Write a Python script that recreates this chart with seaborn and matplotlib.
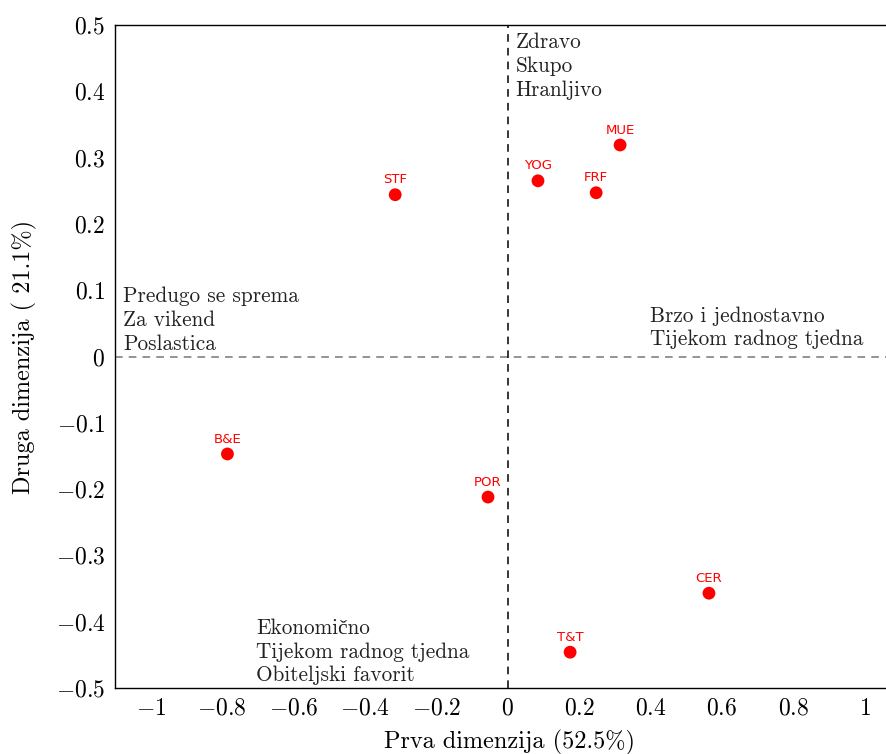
import numpy as np
import pandas as pd
import matplotlib.pyplot as plt
import seaborn as sns

# --- data ---
labels = ["MUE", "YOG", "FRF", "STF", "B&E", "POR", "CER", "T&T"]
dim1 = [0.315, 0.085, 0.248, -0.315, -0.785, -0.055, 0.564, 0.175]
dim2 = [0.319, 0.265, 0.247, 0.244, -0.147, -0.212, -0.357, -0.446]

quadrant_text = {
    "top": ["Zdravo", "Skupo", "Hranljivo"],
    "left": ["Predugo se sprema", "Za vikend", "Poslastica"],
    "right": ["Brzo i jednostavno", "Tijekom radnog tjedna"],
    "bottom": ["Ekonomično", "Tijekom radnog tjedna", "Obiteljski favorit"],
}
quadrant_pos = {
    "top": (0.022, 0.488),
    "left": (-1.078, 0.105),
    "right": (0.398, 0.076),
    "bottom": (-0.705, -0.395),
}

xticks = [-1, -0.8, -0.6, -0.4, -0.2, 0, 0.2, 0.4, 0.6, 0.8, 1]
yticks = [-0.5, -0.4, -0.3, -0.2, -0.1, 0, 0.1, 0.2, 0.3, 0.4, 0.5]

df = pd.DataFrame({"label": labels, "x": dim1, "y": dim2})

sns.set_style("white")
plt.rcParams["font.family"] = ["cmr10", "Liberation Serif", "DejaVu Serif"]
plt.rcParams["mathtext.fontset"] = "cm"
plt.rcParams["axes.formatter.use_mathtext"] = True
plt.rcParams["text.color"] = "black"
plt.rcParams["axes.labelcolor"] = "black"
plt.rcParams["xtick.labelcolor"] = "black"
plt.rcParams["ytick.labelcolor"] = "black"

fig = plt.figure(figsize=(8.86, 7.54), dpi=100)
ax = fig.add_axes([115 / 886, 66 / 754, 1 - 115 / 886 + 0.02, (688 - 25) / 754])

sns.scatterplot(data=df, x="x", y="y", color="#ff0000", s=85, edgecolor="none", ax=ax, zorder=3)
for _, r in df.iterrows():
    ax.annotate(r["label"], (r["x"], r["y"]), xytext=(0, 6), textcoords="offset points",
                ha="center", va="bottom", color="#ff0000", fontsize=9.5,
                family="DejaVu Sans")

ax.axhline(0, color="#777777", ls=(0, (5, 4)), lw=1.1, zorder=1)
ax.axvline(0, color="black", ls=(0, (5, 4)), lw=1.1, zorder=1)

for key, lines in quadrant_text.items():
    tx, ty = quadrant_pos[key]
    ax.text(tx, ty, "\n".join(lines), ha="left", va="top", fontsize=15.3,
            linespacing=1.27, color="#222222",
            family=["cmr10", "Liberation Serif", "DejaVu Serif"])

ax.set_xlim(-1.1, 1.06 + 0.02 * 2.16 / (1 - 115 / 886))
ax.set_ylim(-0.5, 0.5)
ax.set_xticks(xticks)
ax.set_yticks(yticks)
ax.set_xticklabels([("$0$" if t == 0 else f"${t:g}$") for t in xticks])
ax.set_yticklabels([("$0$" if t == 0 else f"${t:g}$") for t in yticks])
ax.tick_params(direction="in", length=6, color="#999999", labelsize=17, pad=7)
ax.spines["right"].set_visible(False)
for s in ["left", "bottom", "top"]:
    ax.spines[s].set_color("black")
    ax.spines[s].set_linewidth(1.0)

ax.set_xlabel("Prva dimenzija (52.5%)", fontsize=17.5, labelpad=7)
ax.set_ylabel("Druga dimenzija ( 21.1%)", fontsize=17.5, labelpad=13)

fig.savefig("out.png", dpi=100)
